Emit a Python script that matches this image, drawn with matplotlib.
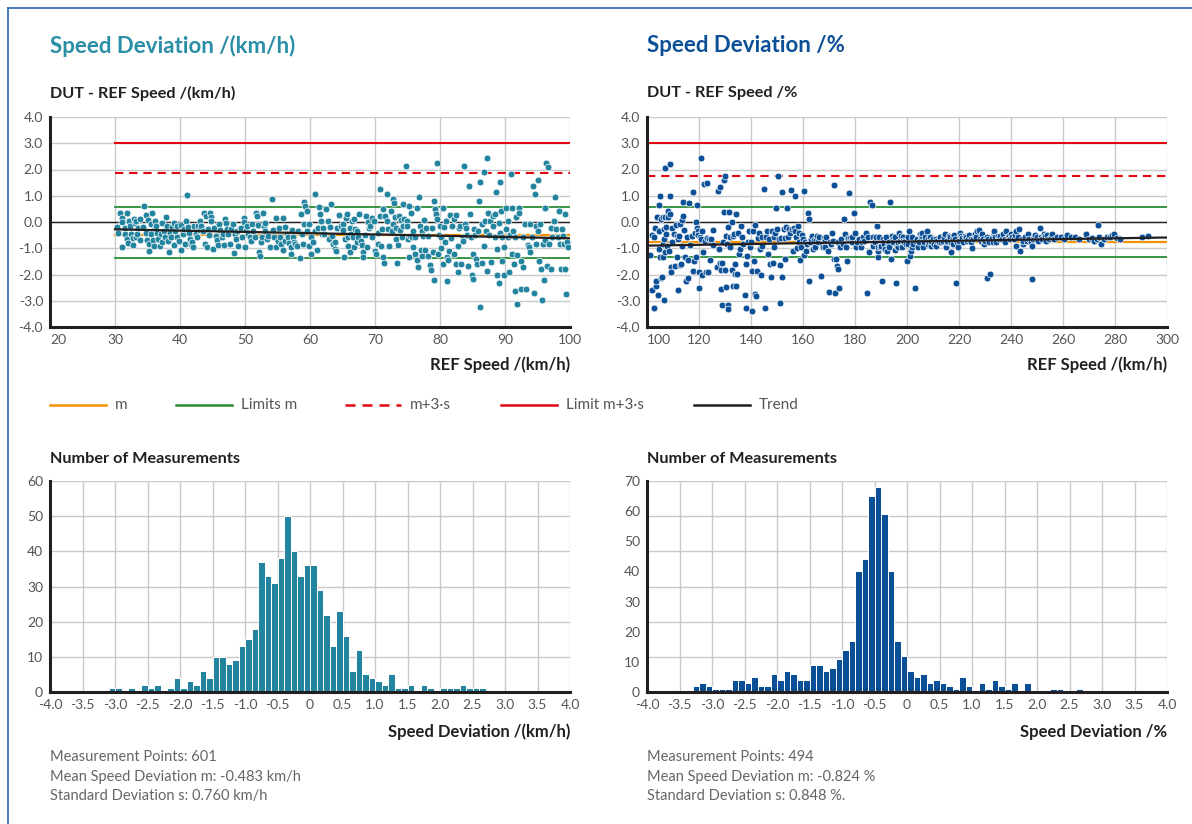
import numpy as np
import matplotlib.pyplot as plt
from matplotlib.lines import Line2D

plt.rcParams['font.family'] = ['Lato', 'DejaVu Sans']

W, H = 1192, 824

# (REF speed km/h, deviation km/h)
kmh_points = np.array([
    (30.3,-0.19),(30.5,-0.42),(30.8,0.35),(31.0,0.16),(31.1,0.0),(31.1,-0.97),(31.5,-0.21),(31.6,-0.44),
    (31.8,0.35),(31.9,-0.65),(32.0,-0.8),(32.1,0.04),(32.3,-0.15),(32.5,-0.44),(32.7,-0.62),(32.8,-0.87),
    (32.9,0.1),(33.1,-0.05),(33.2,0.04),(33.3,-0.59),(33.4,-0.44),(33.6,-0.24),(33.8,-0.67),(33.9,0.1),
    (34.3,-0.19),(34.5,0.6),(34.7,-0.4),(34.8,0.26),(34.9,-0.67),(35.1,0.06),(35.2,-0.84),(35.2,-1.09),
    (35.5,-0.47),(35.6,-0.09),(35.7,0.34),(35.8,-0.67),(36.0,-0.91),(36.1,-0.21),(36.2,0.04),(36.3,-0.15),
    (36.5,-0.4),(36.6,-0.65),(36.9,-0.91),(37.0,-0.47),(37.2,-0.03),(37.3,-0.78),(37.5,-0.34),(37.7,-0.57),
    (37.9,0.19),(38.0,-0.15),(38.2,-0.72),(38.3,-1.16),(38.4,-0.4),(38.6,-0.57),(38.8,-0.19),(39.0,-0.87),
    (39.1,-0.03),(39.3,-0.34),(39.5,-0.15),(39.6,-0.57),(39.8,-0.72),(40.1,-1.07),(40.2,-0.11),(40.4,-0.44),
    (40.6,-0.28),(40.7,-0.82),(40.9,0.04),(41.0,1.02),(41.2,-0.19),(41.4,-0.4),(41.5,-0.65),(41.7,-0.84),
    (41.9,-0.78),(42.0,-0.94),(42.2,-0.15),(42.4,-0.47),(42.6,-0.57),(42.8,-0.15),(43.0,0.04),(43.1,-0.29),
    (43.3,-0.15),(43.5,-0.34),(43.7,0.35),(43.8,-0.84),(44.0,0.23),(44.1,-0.97),(44.3,-0.28),(44.4,-0.49),
    (44.6,0.35),(44.7,0.19),(44.8,0.04),(45.1,-1.03),(45.2,-0.21),(45.5,-0.53),(45.7,-0.69),(45.9,-0.87),
    (46.0,-0.09),(46.2,-0.31),(46.4,-0.59),(46.6,-0.47),(46.8,-0.87),(46.9,0.1),(47.1,-0.03),(47.2,-0.28),
    (47.4,-0.47),(47.7,-0.84),(47.9,-0.28),(48.1,-0.09),(48.3,-1.19),(48.5,-0.47),(48.6,-0.65),(48.8,-0.36),
    (48.9,-0.91),(49.2,-0.21),(49.4,-0.24),(49.6,-0.59),(49.8,0.16),(49.9,0.01),(50.0,-0.97),(50.2,-0.29),
    (50.3,-0.15),(50.5,-0.47),(50.7,-0.59),(50.9,-0.74),(51.1,-0.09),(51.3,-0.34),(51.5,-0.57),(51.7,0.35),
    (51.8,0.23),(52.0,-0.11),(52.1,-1.16),(52.3,-1.31),(52.4,-0.78),(52.6,-0.57),(52.7,0.33),(52.9,-0.15),
    (53.0,-0.34),(53.1,-0.03),(53.4,-0.65),(53.6,-0.53),(53.9,-0.97),(54.1,0.86),(54.3,-0.29),(54.5,-0.57),
    (54.7,-0.97),(54.8,0.16),(55.0,-0.72),(55.2,-0.21),(55.4,-0.59),(55.6,-0.84),(55.8,0.14),(55.9,-1.07),
    (56.1,-0.72),(56.2,-0.19),(56.4,-0.44),(56.6,-0.59),(56.8,-0.79),(57.0,-0.97),(57.1,-1.22),(57.3,-0.31),
    (57.4,-0.57),(57.6,-0.78),(57.7,-0.84),(58.0,-0.91),(58.2,-0.34),(58.4,-1.37),(58.6,0.29),(58.7,-0.47),
    (58.9,-0.84),(59.0,-0.06),(59.1,0.77),(59.3,0.6),(59.5,0.42),(59.6,-0.34),(59.8,-0.91),(59.9,-0.09),
    (60.1,-0.57),(60.2,-1.22),(60.4,-0.78),(60.7,-0.34),(60.8,1.08),(61.0,-1.07),(61.2,-0.21),(61.4,0.59),
    (61.6,0.29),(61.7,0.04),(61.8,-0.44),(62.0,-0.21),(62.1,-0.47),(62.5,0.5),(62.7,0.04),(62.9,-0.65),
    (63.1,-0.19),(63.2,0.67),(63.4,-0.53),(63.6,-0.84),(63.8,-1.03),
    (63.9,-0.78),(64.0,-1.09),(64.2,-0.21),(64.5,0.26),(64.7,-0.15),(65.0,-0.09),(65.1,-0.29),(65.2,-1.32),
    (65.4,-0.65),(65.5,0.14),(65.7,0.29),(65.8,-0.57),(65.9,-0.91),(66.1,-1.13),(66.2,-0.24),(66.3,-0.47),
    (66.4,0.04),(66.6,-0.59),(66.7,-0.97),(66.8,0.1),(66.9,-0.28),(67.2,-0.36),(67.3,-0.78),(67.4,-0.59),
    (67.6,0.29),(67.8,-0.72),(68.0,-0.87),(68.1,-1.16),(68.2,-1.32),(68.5,-0.49),(68.6,0.23),(68.7,-0.97),
    (68.9,0.01),(69.1,-0.21),(69.2,-0.15),(69.5,-0.57),(69.6,0.14),(69.8,0.04),(70.0,-1.09),(70.2,-1.22),
    (70.4,-0.82),(70.5,-0.4),(70.7,1.27),(70.8,0.23),(70.9,-0.91),(71.0,-0.28),(71.2,-1.32),(71.3,0.48),
    (71.4,-1.57),(71.5,0.23),(71.8,1.07),(71.9,0.04),(72.0,-0.28),(72.2,-0.91),(72.4,0.42),(72.6,-0.34),
    (72.7,-0.09),(72.8,0.86),(72.9,0.73),(73.1,0.19),(73.2,-0.24),(73.3,-0.65),(73.4,-1.57),(73.6,-0.88),
    (73.7,0.23),(73.8,-0.31),(74.0,0.06),(74.1,-0.59),(74.3,0.67),(74.3,-0.15),(74.5,0.1),(74.8,2.13),
    (74.9,0.04),(74.9,-0.15),(75.0,-0.65),(75.2,-1.35),(75.3,0.6),(75.4,-0.53),(75.5,0.35),(75.7,-0.57),
    (75.8,-0.94),(75.9,-0.36),(76.1,-1.22),(76.2,-0.59),(76.4,0.54),(76.5,-1.45),(76.6,-1.72),(76.8,0.94),
    (76.9,-0.15),(77.0,-1.07),(77.2,-0.34),(77.3,-1.28),(77.4,-0.53),(77.6,0.06),(77.7,-1.07),(77.9,-0.24),
    (78.1,-1.28),(78.2,-0.53),(78.4,-1.62),(78.6,-1.82),(78.7,-0.21),(78.9,-1.16),(79.0,-2.2),(79.1,0.79),
    (79.3,0.48),(79.4,0.29),(79.5,2.26),(79.6,0.1),(79.7,-1.22),(79.8,-0.49),(80.0,-0.15),(80.1,-0.59),
    (80.2,-0.99),(80.4,0.54),(80.5,-1.6),(80.6,-0.19),(80.8,-0.78),(80.9,0.04),(81.0,-1.35),(81.1,-2.23),
    (81.3,-1.45),(81.4,-1.09),(81.5,0.26),(81.7,-0.62),(81.9,-0.15),(82.1,-1.22),(82.2,0.1),(82.4,0.26),
    (82.5,-1.6),(82.7,-1.91),(82.8,-0.91),(82.9,-0.21),(83.1,-0.15),(83.3,-1.6),(83.5,-0.57),(83.6,-0.74),
    (83.7,2.15),(83.9,-0.09),(84.0,-0.21),(84.2,-0.49),(84.3,-1.66),(84.5,1.36),(84.6,0.31),(84.7,-0.59),
    (84.9,-2.0),(85.0,-2.16),(85.1,-1.22),(85.3,-0.28),(85.4,-0.49),(85.5,-1.41),(85.7,-1.6),(85.9,-0.34),
    (86.0,0.79),(86.2,1.52),(86.2,-3.25),(86.4,-1.57),(86.5,-0.09),(86.7,-0.91),(86.8,1.92),(86.9,0.04),
    (87.1,-0.36),(87.2,2.45),(87.3,-1.85),(87.4,0.35),(87.6,-0.49),(87.7,0.04),(87.9,-1.53),(88.1,0.23),
    (88.2,-0.15),(88.4,-0.59),(88.5,0.29),(88.6,1.14),(88.7,-1.03),(88.8,-2.0),(89.0,-0.03),(89.1,-2.33),
    (89.2,1.52),(89.3,-0.4),(89.4,0.42),(89.5,-1.47),(89.6,-0.59),(89.8,-0.97),(89.9,-2.0),(90.1,-0.28),
    (90.2,0.54),(90.4,-0.59),(90.5,0.04),(90.6,-1.91),(90.7,-0.49),(90.9,1.84),(91.0,-1.22),(91.1,0.54),
    (91.3,-0.34),(91.4,-1.6),(91.5,-2.63),(91.6,-0.59),(91.7,0.19),(91.8,-3.11),(91.9,-1.25),(92.1,0.54),
    (92.2,0.35),(92.4,-2.54),(92.5,-1.5),(92.7,-1.7),(92.8,-0.59),(93.0,-0.09),(93.3,-2.54),(93.5,-0.87),
    (93.7,-0.94),(93.8,-0.09),(93.9,-1.16),(94.1,-0.59),(94.3,1.38),(94.5,-2.7),(94.6,1.07),(94.7,-0.15),
    (94.8,-0.84),(95.0,-0.36),(95.1,1.61),(95.2,-1.47),(95.4,-0.09),(95.6,-1.79),(95.7,-2.96),(95.8,-0.84),
    (96.0,-2.2),(96.1,0.52),(96.2,-0.69),(96.3,2.24),(96.4,-1.66),(96.6,2.08),(96.8,-0.84),(97.0,-1.79),
    (97.1,-0.24),(97.3,-0.57),(97.5,0.04),(97.7,0.94),(97.9,-0.28),(98.2,-0.57),(98.3,0.42),(98.4,-0.82),
    (98.6,-1.79),(98.7,-0.28),(98.9,-0.53),(99.1,-0.84),(99.2,0.29),(99.3,-1.79),(99.4,-2.73),(99.5,-0.75),
    (99.7,-0.94),
])

# (REF speed km/h, deviation %)
pct_points = np.array([
    (101.3,-1.25),(101.8,-0.49),(102.0,-2.6),(102.5,-3.26),(102.8,-0.57),(103.2,-0.24),(103.4,-2.45),(103.6,-2.23),
    (103.8,0.19),(104.1,-2.79),(104.5,0.64),(104.5,-0.36),(104.7,-1.03),(105.0,-1.35),(105.1,0.98),(105.4,-2.14),
    (105.4,0.1),(105.6,-2.08),(106.0,0.19),(106.1,-0.84),(106.2,-1.35),(106.4,-2.98),(106.4,-0.28),(106.6,-0.65),
    (106.8,2.05),(106.9,-1.16),(107.1,0.19),(107.3,-0.47),(107.4,-0.18),(107.6,-0.91),(107.9,0.42),(108.2,0.19),
    (108.5,-1.09),(108.7,2.21),(108.9,0.98),(108.9,0.29),(109.2,-1.7),(109.3,-1.91),(109.6,-0.21),(109.8,-0.78),
    (110.2,-0.47),(110.7,-1.66),(111.1,-0.11),(111.5,-0.53),(111.7,-1.32),(111.8,-2.58),(112.1,-0.65),(112.4,-0.53),
    (112.5,-1.62),(112.7,-0.06),(113.0,-1.6),(113.4,0.06),(113.6,-0.91),(113.8,0.23),(114.0,0.77),(114.3,-0.31),
    (114.6,-1.35),(115.0,-2.23),(115.3,-0.57),(115.7,-2.13),(115.9,-1.45),(116.3,0.73),(116.6,-0.87),(117.2,-0.53),
    (117.6,-1.85),(117.7,1.14),(118.1,-1.47),(118.5,-0.4),(118.7,0.01),(119.0,-1.35),(119.1,0.64),(119.4,-0.21),
    (119.5,-0.36),(119.7,-0.49),(120.0,-1.91),(120.1,-2.5),(120.4,-0.59),(120.6,2.43),(120.8,-0.65),(121.0,-2.0),
    (121.3,-0.34),(121.7,-1.16),(121.9,1.45),(122.3,-0.74),(122.5,-1.91),(122.9,1.48),(123.2,-0.62),(123.4,-1.91),
    (123.8,-0.65),(124.2,-1.45),(124.5,-0.78),(124.7,-0.63),(125.2,-0.31),(125.5,-0.87),(127.1,-1.72),(127.4,1.17),
    (127.5,-1.03),(128.0,-1.57),(128.2,1.32),(128.3,-2.54),(128.4,-1.82),(128.7,-3.17),(129.0,-1.57),(129.3,-0.75),
    (129.6,1.61),(129.7,0.38),(129.9,1.74),(129.9,-1.82),(130.2,-2.48),(130.3,-0.53),(130.8,-0.84),(131.1,-3.17),
    (131.2,-0.19),(131.3,-3.33),(131.6,0.38),(131.8,-0.59),(132.1,-0.97),(132.5,-1.82),(132.7,0.01),(132.9,-0.53),
    (133.1,-2.42),(133.4,-0.44),(133.8,-1.6),(134.0,-1.97),(134.3,-2.42),(134.4,0.31),(134.8,-1.97),(135.0,-0.4),
    (135.3,-1.22),(135.7,-1.03),(136.2,-0.15),(136.4,-0.59),(136.9,-0.84),(137.6,-2.79),(138.0,-1.6),(138.2,-3.26),
    (138.5,-1.28),(138.9,-0.78),(139.1,-0.36),(139.5,-0.97),(140.0,-0.78),(140.3,-3.4),(140.5,-1.85),(140.8,-0.36),
    (141.0,-1.47),(141.4,-2.73),(141.7,-0.11),(142.0,-2.83),(142.3,-1.85),(142.7,-0.62),(143.1,-0.4),(143.3,-1.03),
    (143.7,-2.0),(144.1,-0.91),(144.3,-0.57),(145.0,1.27),(145.2,-3.26),(145.6,-0.59),(146.1,-0.36),(146.5,-1.22),
    (146.9,-0.65),(147.4,-1.6),(147.8,-2.1),(148.2,-0.34),(148.4,-1.57),(148.8,-0.57),(149.0,-0.97),(149.4,-0.4),
    (149.7,0.52),(150.1,-0.28),(150.3,1.74),(150.7,-0.65),(151.0,-1.62),(151.3,-3.08),(151.6,-0.62),(151.8,-2.1),
    (152.0,1.14),(152.5,-0.28),(152.9,-1.41),(153.1,-0.62),(153.5,-0.19),(153.9,0.54),(154.1,-0.59),(154.5,-0.28),
    (155.0,-0.4),(155.4,1.23),(155.8,-0.28),(156.2,-1.09),(156.4,-0.24),(156.8,-0.34),(157.1,0.98),(157.3,-0.57),
    (157.7,-0.99),(158.0,-0.15),(158.3,-0.4),(158.6,-0.78),(159.0,-1.45),(159.2,-0.97),(159.5,-0.49),(159.9,-0.65),
    (160.3,-1.25),(160.5,1.19),(160.9,-0.78),(161.1,-1.09),(161.5,-0.84),(161.9,0.35),(162.2,-2.23),(162.4,0.13),
    (162.8,-0.78),(163.1,-0.65),(163.4,-0.53),(163.8,-1.03),(164.2,-0.69),(164.6,-0.97),(165.0,-0.69),(165.4,-0.53),
    (165.7,-0.78),(166.2,-0.59),(166.9,-2.04),(167.3,-0.82),(167.5,-0.94),(167.9,-0.62),(168.3,-0.97),(168.5,-0.69),
    (169.0,-0.59),(169.6,-1.09),(170.1,-2.67),(170.3,-0.78),(170.7,-0.84),(171.1,-0.4),(171.5,-0.72),(171.8,-1.41),
    (172.1,1.42),(172.4,-2.7),(172.6,-1.41),(173.0,-1.66),(173.4,-0.78),(173.6,-1.79),(173.9,-2.5),(174.3,-0.97),
    (174.8,-0.65),(175.2,-0.84),(175.7,0.1),(176.2,-0.47),(176.6,-0.97),(176.9,-1.47),(177.2,-0.62),(177.5,1.11),
    (178.0,-0.62),(178.3,-0.72),(178.7,-0.78),(179.0,-0.59),(179.6,0.35),(180.0,-0.4),(180.3,-0.94),(180.9,-0.78),
    (181.5,-0.65),(182.2,-0.97),(182.5,-0.78),(183.1,-0.59),(183.6,-0.74),(184.1,-0.4),(184.6,-2.7),(185.1,-0.59),
    (185.4,-1.16),(185.9,0.77),(186.5,0.64),(186.8,-0.91),(187.1,-0.59),(187.5,-0.72),(187.8,-0.78),(188.0,-0.57),
    (188.4,-0.15),(188.7,-1.32),(188.8,-1.09),(189.0,-0.97),(189.3,-0.59),(189.7,-0.97),(190.1,-0.91),(190.3,-2.23),
    (190.6,-0.65),(191.0,-0.78),(191.3,-0.84),(191.6,-1.03),(191.8,-0.59),(192.2,-1.09),(192.6,-0.84),(192.9,-0.78),
    (193.1,-0.97),(193.5,0.77),(193.9,-1.41),(194.1,-0.53),(194.5,-0.65),(194.8,-0.78),(195.2,-0.59),(195.4,-1.07),
    (195.8,-2.33),(196.1,-0.91),(196.4,-0.97),(196.7,-0.78),(196.9,-0.4),(197.3,-0.72),(197.7,-0.53),(198.0,-0.97),
    (198.3,-0.59),(198.6,-0.72),(199.0,-0.78),(199.5,-0.84),(199.9,-1.5),(200.3,-0.82),(200.5,-0.59),(200.9,-0.34),
    (201.3,-1.3),(201.5,-1.09),(201.8,-0.97),(202.0,-0.57),(202.4,-0.84),(203.1,-2.52),(203.3,-0.72),(203.7,-0.65),
    (204.1,-0.94),(204.6,-0.78),(205.0,-0.47),(205.4,-0.59),(205.6,-0.53),(205.9,-0.4),(206.2,-0.97),(206.5,-0.78),
    (206.9,-0.59),(207.5,-0.34),(207.9,-0.84),(208.2,-0.65),(208.5,-0.78),(208.8,-0.57),(209.2,-0.91),(209.4,-0.72),
    (210.1,-0.65),(210.4,-0.84),(211.0,-0.91),(211.3,-0.65),(211.7,-0.72),(212.2,-0.78),(212.7,-0.59),(213.2,-0.78),
    (213.9,-0.72),(214.3,-0.57),(214.5,-0.44),(214.9,-0.97),(215.3,-0.78),(215.5,-0.72),(216.1,-0.53),(216.4,-0.59),
    (216.8,-0.78),(217.1,-1.16),(217.5,-0.82),(217.8,-0.59),(218.1,-0.49),(218.3,-0.65),(218.9,-2.33),(219.1,-0.78),
    (219.6,-0.97),(220.0,-0.74),(220.4,-0.4),(220.9,-0.53),(221.3,-0.62),(221.7,-0.78),(222.2,-0.53),(222.5,-0.59),
    (222.9,-0.72),(223.4,-0.65),(223.9,-0.49),(224.5,-0.65),(224.7,-0.78),(225.1,-0.99),(225.5,-0.65),(226.0,-0.49),
    (226.2,-0.44),(226.6,-0.59),(227.0,-0.34),(227.5,-0.3),(227.9,-0.65),(228.3,-0.74),(228.8,-0.47),(229.2,-0.65),
    (229.6,-0.84),(230.1,-0.72),(230.6,-2.13),(230.8,-0.59),(231.3,-0.65),(231.7,-0.78),(232.1,-1.97),(232.6,-0.62),
    (233.0,-0.78),(233.4,-0.44),(233.6,-0.36),(234.0,-0.59),(234.3,-0.78),(234.9,-0.53),(235.4,-0.65),(235.9,-0.53),
    (236.4,-0.65),(236.9,-0.44),(237.5,-0.65),(237.7,-0.78),(238.2,-0.34),(238.7,-0.59),(239.4,-0.53),(239.7,-0.65),
    (240.1,-0.47),(240.5,-0.59),(241.0,-0.65),(241.5,-0.49),(241.8,-0.91),(242.0,-0.36),(242.5,-0.57),(243.2,-0.28),
    (243.6,-1.12),(244.1,-0.65),(244.5,-0.84),(244.8,-0.74),(245.5,-0.59),(246.0,-0.72),(246.6,-0.44),(247.1,-0.65),
    (247.6,-0.78),(247.9,-2.16),(248.2,-0.91),(248.4,-0.65),(248.9,-0.59),(249.4,-0.49),(249.9,-0.57),(250.4,-0.72),
    (251.0,-0.24),(251.5,-0.59),(252.1,-0.65),(252.5,-0.44),(253.0,-0.53),(253.5,-0.72),(254.0,-0.49),(254.6,-0.65),
    (255.3,-0.59),(255.9,-0.44),(256.6,-0.65),(257.8,-0.59),(259.1,-0.57),(260.4,-0.65),(261.7,-0.49),(263.2,-0.59),
    (264.8,-0.59),(266.1,-0.65),(268.7,-0.44),(269.9,-0.65),(271.2,-0.62),(272.1,-0.72),(272.9,-0.65),(273.4,-0.13),
    (274.0,-0.59),(274.8,-0.84),(275.7,-0.65),(276.9,-0.59),(278.2,-0.59),(279.0,-0.49),(279.7,-0.44),(280.8,-0.62),
    (282.0,-0.65),(290.3,-0.57),(292.5,-0.54),
])

# histogram counts, bins of 0.1 from -4.0 to 4.0
hist_edges = np.round(np.arange(-4.0, 4.0, 0.1), 1)
kmh_counts = [0, 0, 0, 0, 0, 0, 0, 0, 0, 1, 1, 0, 1, 0, 2, 1, 2, 0, 1, 4,
              1, 3, 2, 6, 4, 10, 10, 8, 9, 13, 15, 18, 37, 33, 31, 38, 50, 40, 33, 36,
              36, 29, 22, 13, 23, 16, 6, 12, 5, 4, 3, 2, 5, 1, 1, 2, 0, 2, 1, 0,
              1, 1, 1, 2, 1, 1, 1, 0, 0, 0, 0, 0, 0, 0, 0, 0, 0, 0, 0, 0]
pct_counts = [0, 0, 0, 0, 0, 0, 0, 2, 3, 2, 1, 1, 1, 4, 4, 3, 5, 2, 2, 6,
              4, 7, 6, 4, 4, 9, 9, 7, 8, 11, 14, 17, 40, 44, 65, 68, 59, 40, 17, 12,
              7, 5, 6, 3, 4, 3, 2, 1, 5, 2, 0, 3, 1, 4, 2, 1, 3, 0, 3, 0,
              0, 0, 1, 1, 0, 0, 1, 0, 0, 0, 0, 0, 0, 0, 0, 0, 0, 0, 0, 0]

# reference lines: mean, limits m, m+3s, limit m+3s, trend ends
kmh_lines = dict(m=-0.483, lim_hi=0.57, lim_lo=-1.37, m3s=1.85, limit=3.0,
                 trend_x=[30, 100], trend_y=[-0.28, -0.62], span=[30, 100])
pct_lines = dict(m=-0.75, lim_hi=0.57, lim_lo=-1.32, m3s=1.75, limit=3.0,
                 trend_x=[100, 300], trend_y=[-0.9, -0.59], span=[100, 300])

kmh_stats = ["Measurement Points: 601", "Mean Speed Deviation m: -0.483 km/h",
             "Standard Deviation s: 0.760 km/h"]
pct_stats = ["Measurement Points: 494", "Mean Speed Deviation m: -0.824 %",
             "Standard Deviation s: 0.848 %."]

TEAL = '#23849f'
NAVY = '#0b4f96'
ORANGE = '#f39200'
GREEN = '#2a8c35'
RED = '#e30613'
DARK = '#231f20'
GRID = '#c9c9c9'
TICK = '#555555'


def fx(px):
    return px / W


def fy(py):
    return 1 - py / H


def style_axes(ax):
    for s in ['top', 'right']:
        ax.spines[s].set_visible(False)
    for s in ['left', 'bottom']:
        ax.spines[s].set_color(DARK)
        ax.spines[s].set_linewidth(2.2)
        ax.spines[s].set_zorder(5)
    ax.tick_params(which='both', length=0, labelsize=10, labelcolor=TICK)
    ax.tick_params(axis='y', pad=5)
    ax.tick_params(axis='x', pad=5)
    ax.set_axisbelow(True)


fig = plt.figure(figsize=(W / 100, H / 100), dpi=100)


def scatter_panel(left, pts, color, lines, xlim, xstep):
    ax = fig.add_axes([fx(left), fy(327), fx(520), 210 / H])
    style_axes(ax)
    ax.set_xlim(*xlim)
    ax.set_ylim(-4, 4)
    ax.set_xticks(np.arange(xlim[0], xlim[1] + 1, xstep))
    ax.set_yticks(np.arange(-4, 5, 1))
    ax.set_yticklabels([f'{v:.1f}' for v in np.arange(-4, 5, 1)])
    ax.get_xticklabels()[0].set_horizontalalignment('left')
    ax.grid(color=GRID, lw=1)
    sx = lines['span']
    ax.axhline(0, color=DARK, lw=1, zorder=1.5)
    ax.plot(sx, [lines['m']] * 2, color=ORANGE, lw=1.6, zorder=2)
    ax.plot(sx, [lines['lim_hi']] * 2, color=GREEN, lw=1.3, zorder=2)
    ax.plot(sx, [lines['lim_lo']] * 2, color=GREEN, lw=1.3, zorder=2)
    ax.plot(sx, [lines['m3s']] * 2, color=RED, lw=1.5, ls=(0, (4, 2.8)), zorder=2)
    ax.plot(sx, [lines['limit']] * 2, color=RED, lw=1.5, zorder=2)
    ax.scatter(pts[:, 0], pts[:, 1], s=24, color=color, edgecolor='white',
               linewidth=0.5, zorder=3)
    ax.plot(lines['trend_x'], lines['trend_y'], color=DARK, lw=1.6, zorder=4)
    return ax


def hist_panel(left, counts, color, ymax, grid_steps):
    ax = fig.add_axes([fx(left), fy(692), fx(520), 211 / H])
    style_axes(ax)
    c = np.array(counts)
    nz = c > 0
    ax.bar(hist_edges[nz], c[nz], width=0.1, align='edge', color=color,
           edgecolor='white', linewidth=0.7, zorder=2)
    ax.set_xlim(-4, 4)
    ax.set_ylim(0, ymax)
    xt = np.arange(-4, 4.01, 0.5)
    ax.set_xticks(xt)
    ax.set_xticklabels(['0' if abs(v) < 1e-9 else f'{v:.1f}' for v in xt])
    ax.set_yticks(np.arange(0, ymax + 1, 10))
    ax.grid(axis='x', which='major', color=GRID, lw=1)
    # horizontal grid follows its own division of the range (not the labels)
    for gy in np.linspace(0, ymax, grid_steps + 1)[1:]:
        ax.axhline(gy, color=GRID, lw=1, zorder=0.5)
    return ax


scatter_panel(50, kmh_points, TEAL, kmh_lines, (20, 100), 10)
scatter_panel(647, pct_points, NAVY, pct_lines, (100, 300), 20)
hist_panel(50, kmh_counts, TEAL, 60, 6)
hist_panel(647, pct_counts, NAVY, 70, 6)

# titles and labels
fig.text(fx(50), fy(46), 'Speed Deviation /(km/h)', color='#2a8ea6', fontsize=16,
         fontweight='bold', va='center')
fig.text(fx(647), fy(46), 'Speed Deviation /%', color=NAVY, fontsize=16,
         fontweight='bold', va='center')
for x0, t in [(50, 'DUT - REF Speed /(km/h)'), (647, 'DUT - REF Speed /%')]:
    fig.text(fx(x0), fy(93), t, color=DARK, fontsize=11.7, fontweight='bold', va='center')
for x1 in [570, 1167]:
    fig.text(fx(x1), fy(365), 'REF Speed /(km/h)', color=DARK, fontsize=12,
             fontweight='bold', va='center', ha='right')
for x0 in [50, 647]:
    fig.text(fx(x0), fy(459), 'Number of Measurements', color=DARK, fontsize=11.7,
             fontweight='bold', va='center')
fig.text(fx(570), fy(732), 'Speed Deviation /(km/h)', color=DARK, fontsize=12,
         fontweight='bold', va='center', ha='right')
fig.text(fx(1167), fy(732), 'Speed Deviation /%', color=DARK, fontsize=12,
         fontweight='bold', va='center', ha='right')
for x0, lines in [(50, kmh_stats), (647, pct_stats)]:
    for i, t in enumerate(lines):
        fig.text(fx(x0), fy(757 + 19.5 * i), t, color='#666666', fontsize=10.5,
                 va='center')

# legend row
legend_items = [(50, ORANGE, '-', 'm'), (176, GREEN, '-', 'Limits m'),
                (345, RED, (0, (4, 2.8)), 'm+3·s'), (501, RED, '-', 'Limit m+3·s'),
                (694, DARK, '-', 'Trend')]
for x0, col, ls, lab in legend_items:
    fig.add_artist(Line2D([fx(x0), fx(x0 + 56)], [fy(405), fy(405)], color=col,
                          lw=1.8, ls=ls))
    fig.text(fx(x0 + 65), fy(405), lab, color='#555555', fontsize=11, va='center')

# page frame
fig.add_artist(Line2D([fx(8), 1], [fy(8), fy(8)], color='#2a62a8', lw=1.2))
fig.add_artist(Line2D([fx(8), fx(8)], [fy(8), 0], color='#2a62a8', lw=1.2))

fig.savefig('out.png', dpi=100)
